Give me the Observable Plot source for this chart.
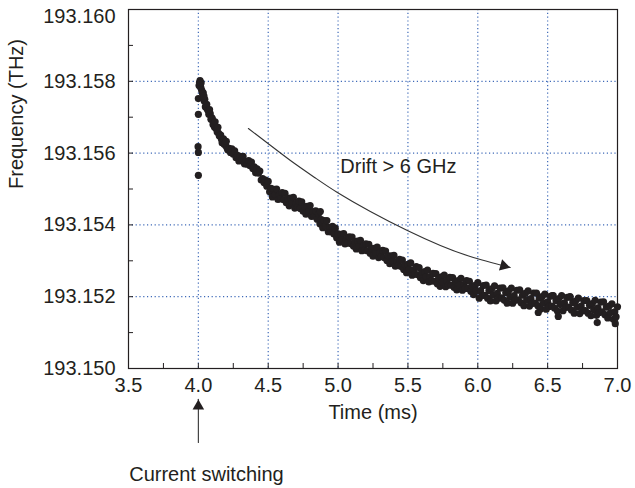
<!DOCTYPE html>
<html>
<head>
<meta charset="utf-8">
<script src="https://cdn.jsdelivr.net/npm/d3@7"></script>
<script src="https://cdn.jsdelivr.net/npm/@observablehq/plot@0.6"></script>
<style>
  html, body { margin: 0; padding: 0; background: #fff; }
  #chart { width: 635px; height: 488px; }
</style>
</head>
<body>
<div id="chart"></div>
<script>
// ---- data ----
const spikeTime = [4.000, 4.000, 3.998, 4.000, 4.000, 4.005, 4.012, 4.010,
  4.008, 4.015, 4.018, 4.024, 4.028, 4.035, 4.042, 4.046, 4.055, 4.065, 4.075, 4.085,
  4.095, 4.105, 4.115, 4.125, 4.135, 4.145, 4.155, 4.165, 4.175, 4.185, 4.195, 4.205];
const spikeFreq = [193.15538, 193.15602, 193.15618, 193.15708, 193.15752, 193.15788, 193.15802, 193.15792,
  193.15796, 193.15790, 193.15782, 193.15775, 193.15770, 193.15768, 193.15745, 193.15750, 193.15728, 193.15722, 193.15708, 193.15710,
  193.15699, 193.15680, 193.15673, 193.15670, 193.15659, 193.15655, 193.15647, 193.15639, 193.15628, 193.15625, 193.15621, 193.15615];

const time = [
 4.02,4.03,4.04,4.05,4.06,4.07,4.08,4.09,4.10,
 4.11,4.12,4.13,4.14,4.15,4.16,4.17,4.18,4.19,4.20,
 4.21,4.22,4.23,4.24,4.25,4.26,4.27,4.28,4.29,4.30,
 4.31,4.32,4.33,4.34,4.35,4.36,4.37,4.38,4.39,4.40,
 4.41,4.42,4.43,4.44,4.45,4.46,4.47,4.48,4.49,4.50,
 4.51,4.52,4.53,4.54,4.55,4.56,4.57,4.58,4.59,4.60,
 4.61,4.62,4.63,4.64,4.65,4.66,4.67,4.68,4.69,4.70,
 4.71,4.72,4.73,4.74,4.75,4.76,4.77,4.78,4.79,4.80,
 4.81,4.82,4.83,4.84,4.85,4.86,4.87,4.88,4.89,4.90,
 4.91,4.92,4.93,4.94,4.95,4.96,4.97,4.98,4.99,5.00,
 5.01,5.02,5.03,5.04,5.05,5.06,5.07,5.08,5.09,5.10,
 5.11,5.12,5.13,5.14,5.15,5.16,5.17,5.18,5.19,5.20,
 5.21,5.22,5.23,5.24,5.25,5.26,5.27,5.28,5.29,5.30,
 5.31,5.32,5.33,5.34,5.35,5.36,5.37,5.38,5.39,5.40,
 5.41,5.42,5.43,5.44,5.45,5.46,5.47,5.48,5.49,5.50,
 5.51,5.52,5.53,5.54,5.55,5.56,5.57,5.58,5.59,5.60,
 5.61,5.62,5.63,5.64,5.65,5.66,5.67,5.68,5.69,5.70,
 5.71,5.72,5.73,5.74,5.75,5.76,5.77,5.78,5.79,5.80,
 5.81,5.82,5.83,5.84,5.85,5.86,5.87,5.88,5.89,5.90,
 5.91,5.92,5.93,5.94,5.95,5.96,5.97,5.98,5.99,6.00,
 6.01,6.02,6.03,6.04,6.05,6.06,6.07,6.08,6.09,6.10,
 6.11,6.12,6.13,6.14,6.15,6.16,6.17,6.18,6.19,6.20,
 6.21,6.22,6.23,6.24,6.25,6.26,6.27,6.28,6.29,6.30,
 6.31,6.32,6.33,6.34,6.35,6.36,6.37,6.38,6.39,6.40,
 6.41,6.42,6.43,6.44,6.45,6.46,6.47,6.48,6.49,6.50,
 6.51,6.52,6.53,6.54,6.55,6.56,6.57,6.58,6.59,6.60,
 6.61,6.62,6.63,6.64,6.65,6.66,6.67,6.68,6.69,6.70,
 6.71,6.72,6.73,6.74,6.75,6.76,6.77,6.78,6.79,6.80,
 6.81,6.82,6.83,6.84,6.85,6.86,6.87,6.88,6.89,6.90,
 6.91,6.92,6.93,6.94,6.95,6.96,6.97,6.98,6.99,7.00
];
const freq = [
 193.15796,193.15766,193.15759,193.15729,193.15736,193.15718,193.15721,193.15694,193.15696,
 193.15682,193.15687,193.15667,193.15672,193.15648,193.15650,193.15629,193.15640,193.15627,193.15633,
 193.15609,193.15613,193.15602,193.15612,193.15597,193.15606,193.15587,193.15594,193.15578,193.15591,
 193.15581,193.15591,193.15570,193.15577,193.15569,193.15579,193.15565,193.15575,193.15557,193.15562,
 193.15545,193.15556,193.15544,193.15550,193.15525,193.15529,193.15518,193.15525,193.15508,193.15521,
 193.15492,193.15502,193.15478,193.15499,193.15484,193.15500,193.15471,193.15484,193.15473,193.15490,
 193.15470,193.15488,193.15462,193.15475,193.15453,193.15475,193.15461,193.15477,193.15447,193.15460,
 193.15449,193.15466,193.15446,193.15464,193.15438,193.15451,193.15430,193.15452,193.15438,193.15454,
 193.15424,193.15437,193.15425,193.15439,193.15416,193.15431,193.15403,193.15415,193.15392,193.15412,
 193.15397,193.15412,193.15381,193.15393,193.15381,193.15396,193.15375,193.15391,193.15364,193.15375,
 193.15352,193.15374,193.15360,193.15376,193.15347,193.15360,193.15350,193.15367,193.15348,193.15366,
 193.15341,193.15354,193.15333,193.15355,193.15341,193.15357,193.15328,193.15341,193.15330,193.15347,
 193.15328,193.15346,193.15321,193.15334,193.15313,193.15335,193.15322,193.15338,193.15309,193.15322,
 193.15312,193.15329,193.15309,193.15327,193.15301,193.15314,193.15292,193.15314,193.15300,193.15315,
 193.15285,193.15298,193.15287,193.15304,193.15284,193.15302,193.15276,193.15289,193.15267,193.15290,
 193.15276,193.15294,193.15260,193.15275,193.15263,193.15284,193.15261,193.15281,193.15253,193.15268,
 193.15245,193.15270,193.15256,193.15274,193.15241,193.15256,193.15244,193.15265,193.15243,193.15264,
 193.15236,193.15252,193.15229,193.15255,193.15241,193.15260,193.15228,193.15244,193.15232,193.15254,
 193.15232,193.15253,193.15226,193.15242,193.15219,193.15245,193.15232,193.15251,193.15218,193.15234,
 193.15223,193.15245,193.15223,193.15243,193.15215,193.15230,193.15206,193.15231,193.15216,193.15239,
 193.15196,193.15217,193.15203,193.15231,193.15204,193.15232,193.15196,193.15217,193.15188,193.15222,
 193.15205,193.15230,193.15188,193.15209,193.15196,193.15224,193.15197,193.15225,193.15190,193.15211,
 193.15182,193.15216,193.15199,193.15224,193.15182,193.15203,193.15190,193.15218,193.15191,193.15219,
 193.15183,193.15204,193.15175,193.15209,193.15191,193.15216,193.15174,193.15195,193.15182,193.15210,
 193.15182,193.15210,193.15175,193.15196,193.15166,193.15200,193.15182,193.15207,193.15165,193.15186,
 193.15173,193.15201,193.15174,193.15203,193.15168,193.15189,193.15160,193.15195,193.15178,193.15203,
 193.15161,193.15183,193.15170,193.15198,193.15171,193.15199,193.15163,193.15184,193.15154,193.15188,
 193.15171,193.15196,193.15153,193.15174,193.15161,193.15189,193.15161,193.15189,193.15154,193.15176,
 193.15147,193.15181,193.15164,193.15190,193.15148,193.15169,193.15156,193.15185,193.15158,193.15186,
 193.15150,193.15171,193.15141,193.15174,193.15156,193.15180,193.15137,193.15158,193.15144,193.15172
];
const outlierTime = [4.873, 6.433, 6.576, 6.855, 6.984, 6.533, 6.660];
const outlierFreq = [193.15437, 193.15156, 193.15145, 193.15128, 193.15125, 193.15203, 193.15200];

// "Drift > 6 GHz" annotation curve
const driftTime = [4.358, 4.494, 4.659, 4.838, 4.995, 5.231, 5.496, 5.732, 5.946, 6.232];
const driftFreq = [193.156685, 193.156281, 193.155794, 193.155306, 193.154903, 193.154373, 193.153844, 193.153426, 193.153120, 193.152813];
const driftHead = {t: 6.186, f: 193.15286, angle: 105.6};
const driftLabel = {t: 5.016, f: 193.15563, text: "Drift > 6 GHz"};

// "Current switching" annotation (below the axis, at t = 4.0)
const switchTime = [4.0, 4.0];
const switchFreq = [193.14794, 193.14914];
const switchHead = {t: 4.0, f: 193.14895, angle: 0};
const switchLabel = {t: 4.058, f: 193.14705, text: "Current switching"};

const xTickLabels = [3.5, 4.0, 4.5, 5.0, 5.5, 6.0, 6.5, 7.0];
const yTickLabels = [193.150, 193.152, 193.154, 193.156, 193.158];
const yTopLabel = [193.160];
const xGrid = [4.0, 4.5, 5.0, 5.5, 6.0, 6.5];
const yGrid = [193.152, 193.154, 193.156, 193.158];
const xSmallTicks = [3.75, 4.0, 4.25, 4.5, 4.75, 5.0, 5.25, 5.5, 5.75, 6.0, 6.25, 6.5, 6.75];
const ySmallTicks = [193.151, 193.152, 193.153, 193.154, 193.155, 193.156, 193.157, 193.158, 193.159];

// ---- build ----
const points = [
  ...spikeTime.map((t, i) => ({t, f: spikeFreq[i]})),
  ...time.map((t, i) => ({t, f: freq[i]})),
  ...outlierTime.map((t, i) => ({t, f: outlierFreq[i]}))
];
const drift = driftTime.map((t, i) => ({t, f: driftFreq[i]}));
const switchLine = switchTime.map((t, i) => ({t, f: switchFreq[i]}));

const ink = "#231f20";
const gridColor = "#3f6ab8";
const W = 635, H = 488, mL = 128, mR = 18, mT = 9, mB = 120;
const plotW = W - mL - mR, plotH = H - mT - mB;

const chart = Plot.plot({
  width: W, height: H,
  marginLeft: mL, marginRight: mR, marginTop: mT, marginBottom: mB,
  style: {fontFamily: "'Liberation Sans', Arial, Helvetica, sans-serif", fontSize: "20px", color: ink, background: "#fff"},
  x: {domain: [3.5, 7.0]},
  y: {domain: [193.150, 193.160]},
  marks: [
    Plot.gridX({ticks: xGrid, stroke: gridColor, strokeOpacity: 1, strokeWidth: 1.2, strokeDasharray: "1.2,2.6"}),
    Plot.gridY({ticks: yGrid, stroke: gridColor, strokeOpacity: 1, strokeWidth: 1.2, strokeDasharray: "1.2,2.6"}),
    Plot.ruleX(xSmallTicks, {x: d => d, insetTop: plotH - 5, stroke: ink}),
    Plot.ruleY(ySmallTicks, {y: d => d, insetRight: plotW - 5, stroke: ink}),
    Plot.frame({stroke: ink, strokeWidth: 1.2}),
    Plot.axisX({ticks: xTickLabels, tickSize: 0, tickPadding: 9, tickFormat: d => d.toFixed(1), label: null, fill: ink}),
    Plot.axisY({ticks: yTickLabels, tickSize: 0, tickPadding: 13, tickFormat: d => d.toFixed(3), label: null, fill: ink}),
    Plot.axisY({ticks: yTopLabel, tickSize: 0, tickPadding: 13, dy: 7, tickFormat: d => d.toFixed(3), label: null, fill: ink}),
    Plot.dot(points, {x: "t", y: "f", r: 3.6, fill: ink, stroke: "none"}),
    Plot.line(drift, {x: "t", y: "f", curve: "natural", stroke: "#333", strokeWidth: 1.1}),
    Plot.dot([driftHead], {x: "t", y: "f", symbol: "triangle", r: 4.3, rotate: "angle", fill: ink, stroke: "none"}),
    Plot.text([driftLabel], {x: "t", y: "f", text: "text", textAnchor: "start", fill: ink, fontSize: 20}),
    Plot.line(switchLine, {x: "t", y: "f", stroke: "#333", strokeWidth: 1.1}),
    Plot.dot([switchHead], {x: "t", y: "f", symbol: "triangle", r: 4.3, rotate: "angle", fill: ink, stroke: "none"}),
    Plot.text([switchLabel], {x: "t", y: "f", text: "text", textAnchor: "middle", fill: ink, fontSize: 20}),
    Plot.text(["Time (ms)"], {frameAnchor: "bottom", dy: 50, text: d => d, fill: ink, fontSize: 20}),
    Plot.text(["Frequency (THz)"], {frameAnchor: "left", dx: -112, rotate: -90, text: d => d, fill: ink, fontSize: 20})
  ]
});
document.getElementById("chart").appendChild(chart);
</script>
</body>
</html>
